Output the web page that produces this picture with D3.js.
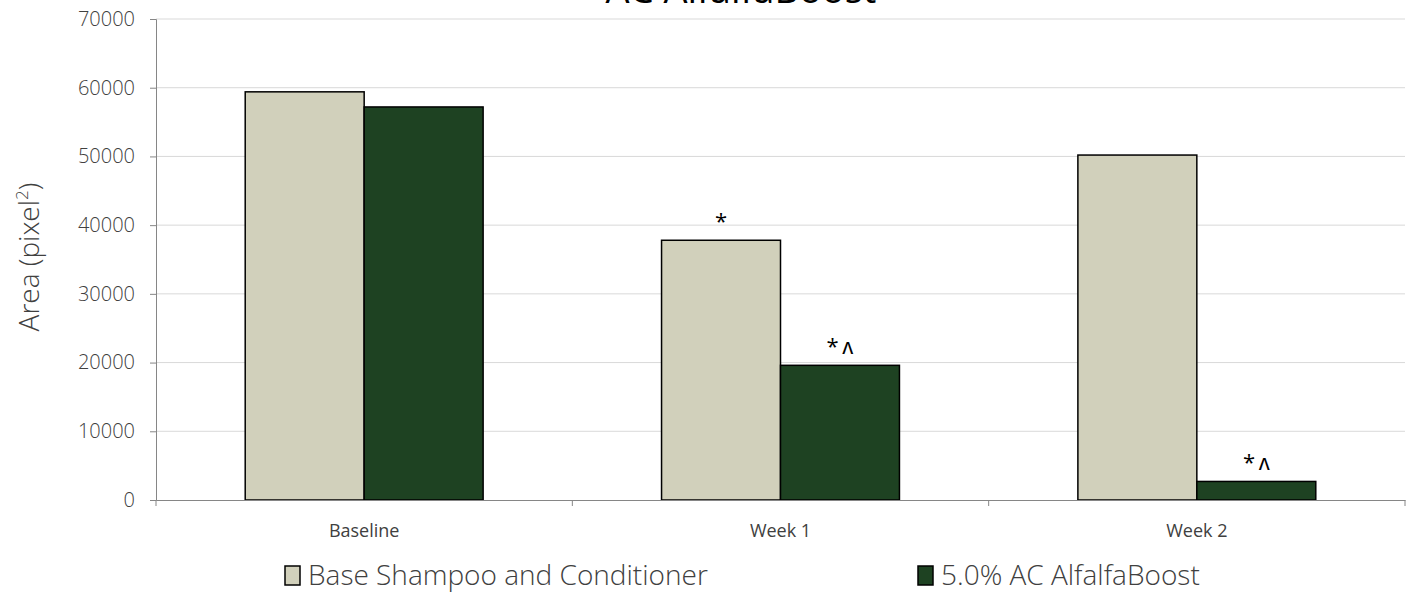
<!DOCTYPE html>
<html>
<head>
<meta charset="utf-8">
<script src="https://cdn.jsdelivr.net/npm/d3@7"></script>
<style>
  body { margin: 0; background: #fff; }
  text { font-family: "Open Sans", sans-serif; fill: #404040; }
</style>
</head>
<body>
<div id="chart"></div>
<script>
// chart data
const categories = ["Baseline", "Week 1", "Week 2"];
const seriesNames = ["Base Shampoo and Conditioner", "5.0% AC AlfalfaBoost"];
const baseValues = [59400, 37800, 50200];
const alfalfaValues = [57200, 19600, 2700];
const baseMarks = ["", "*", ""];
const alfalfaMarks = ["", "*^", "*^"];
const yTicks = [0, 10000, 20000, 30000, 40000, 50000, 60000, 70000];
const colors = ["#d1d0bb", "#1e4222"];

const W = 1413, H = 592;
const margin = {top: 19, right: 8, bottom: 92, left: 156};
const width = W - margin.left - margin.right,
   height = H - margin.top - margin.bottom;

const svg = d3.select("#chart").append("svg")
   .attr("width", W).attr("height", H);

// title, mostly cut off at the top
svg.append("text")
   .attr("x", 741).attr("y", 3)
   .attr("text-anchor", "middle")
   .style("font-size", "38px").style("fill", "#000")
   .text("AC AlfalfaBoost");

const g = svg.append("g")
   .attr("transform", "translate(" + margin.left + "," + margin.top + ")");

const x0 = d3.scaleBand().domain(categories).range([0, width]).paddingInner(0).paddingOuter(0);
const x1 = d3.scaleBand().domain([0, 1]).range([0, x0.bandwidth()]).paddingOuter(0.75).paddingInner(0);
const y = d3.scaleLinear().domain([0, 70000]).range([height, 0]);

// gridlines
g.append("g").selectAll("line")
   .data(yTicks.filter(d => d > 0))
   .enter().append("line")
   .attr("x1", 0).attr("x2", width)
   .attr("y1", d => y(d)).attr("y2", d => y(d))
   .attr("stroke", "#d9d9d9").attr("stroke-width", 1);

// y axis
const yAxis = g.append("g")
   .call(d3.axisLeft(y).tickValues(yTicks).tickSize(6).tickPadding(15).tickFormat(d3.format("d")));
yAxis.select(".domain").attr("stroke", "#868686");
yAxis.selectAll(".tick line").attr("stroke", "#868686");
yAxis.selectAll(".tick text").style("font-size", "20px").style("font-weight", "300")
   .style("font-family", "'Open Sans', sans-serif").attr("fill", "#404040");

// bars
const groups = categories.map((c, i) => ({cat: c, vals: [baseValues[i], alfalfaValues[i]], marks: [baseMarks[i], alfalfaMarks[i]]}));
const cg = g.selectAll(".cat").data(groups).enter().append("g")
   .attr("transform", d => "translate(" + x0(d.cat) + ",0)");
cg.selectAll("rect")
   .data(d => d.vals.map((v, k) => ({k: k, v: v})))
   .enter().append("rect")
   .attr("x", d => x1(d.k))
   .attr("width", x1.bandwidth())
   .attr("y", d => y(d.v))
   .attr("height", d => height - y(d.v))
   .attr("fill", d => colors[d.k])
   .attr("stroke", "#000").attr("stroke-width", 1.5);
cg.selectAll(".mark")
   .data(d => d.vals.map((v, k) => ({k: k, v: v, m: d.marks[k]})))
   .enter().append("text")
   .attr("x", d => x1(d.k) + x1.bandwidth() / 2)
   .attr("y", d => y(d.v) - 11)
   .attr("text-anchor", "middle")
   .style("font-size", "22px").style("fill", "#000")
   .text(d => d.m.replace("^", "\u2009\u028C"));

// x axis
const xAxis = g.append("g")
   .attr("transform", "translate(0," + height + ")")
   .call(d3.axisBottom(x0).tickSize(0).tickPadding(24));
xAxis.select(".domain").attr("stroke", "#868686");
xAxis.selectAll(".tick text").style("font-size", "18px")
   .style("font-family", "'Open Sans', sans-serif").attr("fill", "#404040");
g.append("g").selectAll("line")
   .data(d3.range(categories.length + 1))
   .enter().append("line")
   .attr("x1", d => d * x0.step()).attr("x2", d => d * x0.step())
   .attr("y1", height).attr("y2", height + 6)
   .attr("stroke", "#868686");

// y axis title
const yt = svg.append("text")
   .attr("transform", "translate(39,257) rotate(-90)")
   .attr("text-anchor", "middle")
   .style("font-size", "28px").style("font-weight", "300");
yt.append("tspan").text("Area (pixel");
yt.append("tspan").attr("baseline-shift", "super").style("font-size", "17px").text("2");
yt.append("tspan").text(")");

// legend
const legendX = [285, 918];
const lg = svg.selectAll(".legend").data(seriesNames).enter().append("g")
   .attr("transform", (d, i) => "translate(" + legendX[i] + ",566)");
lg.append("rect")
   .attr("width", 15).attr("height", 19)
   .attr("fill", (d, i) => colors[i])
   .attr("stroke", "#000").attr("stroke-width", 1.5);
lg.append("text")
   .attr("x", 23).attr("y", 19)
   .style("font-size", "28px").style("font-weight", "300")
   .text(d => d);
</script>
</body>
</html>
